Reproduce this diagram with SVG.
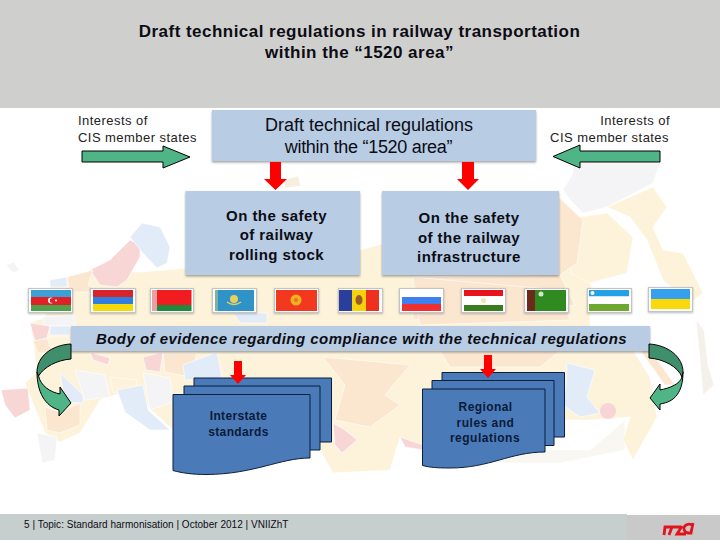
<svg xmlns="http://www.w3.org/2000/svg" width="720" height="540" viewBox="0 0 720 540">
<defs>
<filter id="sh" x="-5%" y="-5%" width="110%" height="115%"><feDropShadow dx="0" dy="1.500" stdDeviation="1" flood-color="#555" flood-opacity=".55"/></filter>
<filter id="fsh" x="-10%" y="-10%" width="120%" height="125%"><feDropShadow dx="0" dy="1" stdDeviation="1" flood-color="#777" flood-opacity=".5"/></filter>
</defs>
<style>
text{font-family:"Liberation Sans",Arial,sans-serif;fill:#0c0c14}
.box{fill:#b8cce4;filter:url(#sh)}
.grn{fill:#4fb486;stroke:#000;stroke-width:1;stroke-linejoin:miter}
.dgr{fill:#3f8f6c;stroke:#000;stroke-width:1}
.red{fill:#f00}
.doc{fill:#4a7ab8;stroke:#0a1f3c;stroke-width:1}
.frame{fill:#fff;stroke:#c4c4c4;stroke-width:1;filter:url(#fsh)}
.m{text-anchor:middle}
.b{font-weight:bold;font-size:15px;letter-spacing:.45px}
.s{font-size:13px;letter-spacing:.45px;fill:#222}
.d{font-size:12px;font-weight:bold;fill:#0b1a3a}
.y{fill:#fdf3da}.o{fill:#fbe6cf}.l{fill:#e2ebf8}.p{fill:#f8d6d6}.w{fill:#f4f4f6}
#map path{stroke:#fff;stroke-width:.6}
</style>
<rect width="720" height="540" fill="#fff"/>
<g id="map">
<path fill="#f8f7f1" d="M423 450H590L625 420V450L560 463 423 463Z"/>
<path class="y" d="M50 285L67 277 93 272 140 272 190 268 360 250 560 197 583 220 577 263 590 283 597 300 590 315 590 330 633 350 650 377 657 417 633 460 623 440 630 417 590 420 547 420 545 450 425 450 400 437 390 470 333 473 320 450 320 400 173 430 130 390 100 400 80 433 60 442 45 433 25 383 37 372 33 340 30 323 45 317Z"/>
<path class="w" d="M563 190L573 173 573 163 660 163 653 183 607 207 583 213 570 200Z"/>
<path class="y" d="M607 207L653 187 667 207 653 227 663 250 683 253 703 293 690 303 663 280 647 240 630 217Z"/>
<path class="y" d="M580 217L607 213 633 237 627 273 590 283 570 273Z"/>
<path class="o" d="M558 197L583 220 577 263 560 275 575 305 413 320 413 277 540 275Z"/>
<path class="o" d="M640 350L650 350 675 385 665 385Z"/>
<path class="p" d="M90 270L110 260 130 240 140 245 140 257 127 280 117 287 100 285Z"/>
<path class="l" d="M130 237L142 223 160 227 170 247 167 263 157 268 143 253Z"/>
<path class="o" d="M67 277L93 270 88 285 100 292 70 292Z"/>
<path class="l" d="M50 280L67 277 67 287 50 287Z"/>
<path class="w" d="M42 317L75 315 75 326 45 326Z"/>
<path class="p" d="M30 323L50 326 47 338 35 341Z"/>
<path class="o" d="M33 341L50 338 52 353 38 353Z"/>
<path class="l" d="M50 326L70 326 70 335 50 335Z"/>
<path class="y" d="M47 337L70 337 70 345 50 347Z"/>
<path class="p" d="M1 390L28 388 30 410 15 418 5 405Z"/>
<path class="o" d="M45 407L60 412 80 403 80 425 60 433 47 430Z"/>
<path class="w" d="M37 433L57 437 55 460 42 463Z"/>
<path class="l" d="M60 373L83 395 83 403 65 402Z"/>
<path class="w" d="M75 370L105 375 110 397 85 400Z"/>
<path class="y" d="M110 377L137 380 135 393 113 392Z"/>
<path class="l" d="M117 390L143 385 148 410 170 430 150 430 125 412Z"/>
<path class="w" d="M143 373L170 378 173 402 150 410Z"/>
<path class="p" d="M143 357L163 352 160 372 146 370Z"/>
<path class="p" d="M90 352L110 358 108 365 93 360Z"/>
<path class="o" d="M163 353L197 353 190 377 165 372Z"/>
<path class="l" d="M183 365L217 352 222 378 185 380Z"/>
<path class="l" d="M233 313L267 313 267 323 240 323Z"/>
<path class="o" d="M323 357L410 365 385 395 400 405 370 427 335 420 345 385Z"/>
<path class="p" d="M333 423L345 430 357 440 342 453 335 445Z"/>
<path class="p" d="M400 437L423 445 423 450 405 447Z"/>
<path class="o" d="M440 351L560 351 540 367 450 367Z"/>
<path class="l" d="M567 363L595 370 587 397 600 413 580 417 563 405 566 385Z"/>
<circle cx="608" cy="411" r="8" fill="#f8d4d6"/>
<path class="o" d="M413 277L560 290 570 320 420 325Z"/>
<path class="w" d="M6 265L14 262 19 270 13 273Z"/>
<path fill="#f6efe0" d="M283 180L298 176 301 186 285 188Z"/>
<path fill="#f3f1ea" d="M696 320L704 330 708 365 714 385 703 395 700 360Z"/>
</g>
<rect id="header" width="720" height="108" fill="#cfcfce"/>
<rect id="footer" y="514" width="627" height="26" fill="#c7cfce"/>
<rect id="footer-right" x="627" y="515" width="93" height="25" fill="#c9c9c9"/>
<text class="m" font-size="17" font-weight="bold" letter-spacing=".47" x="359.500" y="37">Draft technical regulations in railway transportation</text>
<text class="m" font-size="17" font-weight="bold" letter-spacing=".47" x="359.500" y="58">within the “1520 area”</text>
<g id="n1"><rect class="box" x="212" y="110" width="324" height="51"/><text class="m" font-size="18" x="369" y="130.500">Draft technical regulations</text><text class="m" font-size="18" letter-spacing="-.3" x="368.500" y="152.500">within the “1520 area”</text></g>
<g id="n2"><rect class="box" x="185.500" y="191" width="174.500" height="84"/><text class="m b" x="276.500" y="221">On the safety</text><text class="m b" x="276.500" y="240">of railway</text><text class="m b" x="276.500" y="260">rolling stock</text></g>
<g id="n3"><rect class="box" x="382" y="191" width="177" height="84"/><text class="m b" x="469" y="223">On the safety</text><text class="m b" x="469" y="243">of the railway</text><text class="m b" x="469" y="262">infrastructure</text></g>
<g id="label-left"><text class="s" x="78" y="125">Interests of</text><text class="s" x="78" y="142">CIS member states</text></g>
<g id="label-right"><text class="s" text-anchor="end" x="670" y="125">Interests of</text><text class="s" text-anchor="end" x="669" y="142">CIS member states</text></g>
<g id="flags">
<g id="flag-az"><rect class="frame" x="28.500" y="288.500" width="44" height="24"/><rect x="31" y="290" width="40" height="7" fill="#3d9fd8"/><rect x="31" y="297" width="40" height="8" fill="#e01f26"/><rect x="31" y="305" width="40" height="6" fill="#4ea04a"/><circle cx="51" cy="300.500" r="3" fill="#fff"/><circle cx="52.300" cy="300.500" r="2.500" fill="#e01f26"/><circle cx="56" cy="300.500" r="1" fill="#fff"/></g>
<g id="flag-am"><rect class="frame" x="90.500" y="288.500" width="45" height="24"/><rect x="93" y="290" width="40" height="7" fill="#d8232a"/><rect x="93" y="297" width="40" height="7" fill="#2f7fe0"/><rect x="93" y="304" width="40" height="7" fill="#f5d90a"/></g>
<g id="flag-by"><rect class="frame" x="150.500" y="288.500" width="43" height="24"/><rect x="157" y="290" width="34.500" height="15" fill="#f01c20"/><rect x="157" y="305" width="34.500" height="6" fill="#1f8a3c"/><rect x="152" y="290" width="5" height="21" fill="#e8a0a0"/></g>
<g id="flag-kz"><rect class="frame" x="212.500" y="288.500" width="44" height="24"/><rect x="215" y="290" width="39" height="21" fill="#2f93c8"/><rect x="215" y="290" width="3" height="21" fill="#7fb0a0"/><circle cx="234" cy="299" r="4" fill="#e8d060"/><path d="M227 302Q234 307 241 302" fill="none" stroke="#e8d060" stroke-width="1.500"/></g>
<g id="flag-kg"><rect class="frame" x="274.500" y="288.500" width="44" height="24"/><rect x="276" y="290" width="41" height="21" fill="#f2381f"/><circle cx="296" cy="300" r="5.500" fill="#f0b020"/><circle cx="296" cy="300" r="2" fill="#d87a20"/></g>
<g id="flag-md"><rect class="frame" x="338.500" y="288.500" width="44" height="24"/><rect x="339" y="290" width="13" height="21" fill="#2a3f9c"/><rect x="352" y="290" width="14" height="21" fill="#f5d20a"/><rect x="366" y="290" width="13" height="21" fill="#f0301f"/><ellipse cx="359" cy="300" rx="3.500" ry="5" fill="#9a5a2a"/></g>
<g id="flag-ru"><rect class="frame" x="399.500" y="288.500" width="44" height="24"/><rect x="402" y="290" width="39" height="7" fill="#fff"/><rect x="402" y="297" width="39" height="7" fill="#3f80f0"/><rect x="402" y="304" width="39" height="7" fill="#ee3030"/></g>
<g id="flag-tj"><rect class="frame" x="461.500" y="288.500" width="44" height="24"/><rect x="464" y="290" width="39" height="6" fill="#e8141c"/><rect x="464" y="296" width="39" height="9" fill="#fff"/><rect x="464" y="305" width="39" height="6" fill="#3a7d20"/><circle cx="483.500" cy="300.500" r="2.500" fill="#f2e6b0"/></g>
<g id="flag-tm"><rect class="frame" x="524.500" y="288.500" width="44" height="24"/><rect x="527" y="290" width="39" height="21" fill="#2f8a1f"/><rect x="527" y="290" width="8" height="21" fill="#6b2a1a"/><circle cx="541" cy="294" r="2.500" fill="#cfe8cf"/></g>
<g id="flag-uz"><rect class="frame" x="587.500" y="288.500" width="44" height="24"/><rect x="589" y="290" width="40" height="6.500" fill="#23a0e8"/><rect x="589" y="296.500" width="40" height="7.500" fill="#fff"/><rect x="589" y="304" width="40" height="7" fill="#6fa830"/><circle cx="592.500" cy="293" r="2" fill="#fff"/></g>
<g id="flag-ua"><rect class="frame" x="648.500" y="287.500" width="44" height="24"/><rect x="651" y="289" width="39" height="10" fill="#35a0ee"/><rect x="651" y="299" width="39" height="10" fill="#fad80a"/></g>
</g>
<g id="n4"><rect class="box" x="71" y="326" width="579" height="25"/><text class="m" font-size="15" font-weight="bold" font-style="italic" letter-spacing=".47" x="361.500" y="344">Body of evidence regarding compliance with the technical regulations</text></g>
<g id="n5">
<path class="doc" d="M194 378H331.500V442H194Z"/><path class="doc" d="M184 386H320V450H184Z"/>
<path class="doc" d="M173 394.500H310V458C280 458 255 474 207 474.500C192 474.500 182 473 173 470.500Z"/>
<text class="m d" letter-spacing=".35" x="238.500" y="420">Interstate</text><text class="m d" letter-spacing=".35" x="238.500" y="436">standards</text>
</g>
<g id="n6">
<path class="doc" d="M442 372.500H564.500V437H442Z"/><path class="doc" d="M432 380.500H554V445.500H432Z"/>
<path class="doc" d="M422.500 389H545V452C510 452 490 468 450 468C438 468 430 467.500 422.500 465.500Z"/>
<text class="m d" letter-spacing=".4" x="485.500" y="411">Regional</text><text class="m d" letter-spacing=".5" x="485.500" y="427">rules and</text><text class="m d" letter-spacing=".5" x="485" y="442">regulations</text>
</g>
<text font-size="10" x="24" y="528" letter-spacing=".03">5 | Topic: Standard harmonisation | October 2012 | VNIIZhT</text>
<g id="connectors">
<path class="grn" d="M82 151H163V146L190 157 163 168V162H82Z"/>
<path class="grn" d="M660 151H580V145L553 156.500 580 168V162H660Z"/>
<path class="red" d="M270 162H281V179H287L275.500 190 264 179H270Z"/>
<path class="red" d="M462 162H474V179H479L468 190 457 179H462Z"/>
<path class="red" d="M234 361H242V375H246L238 384 230 375H234Z"/>
<path class="red" d="M484 355H492V369H496L488 378 480 369H484Z"/>
<path class="grn" d="M37 372C37 392 45 406 59 410V416L71 403 60 387V394C50 392 41 386 38.500 376Z"/>
<path class="dgr" d="M71 344C51 345 37 357 37 372L38.500 376C44 367 57 360 71 359Z"/>
<path class="grn" d="M683 372C683 392 675 402 660 404V410L650 398 660 384V390C670 388 680 384 682 377Z"/>
<path class="dgr" d="M649 344C668 345 683 357 683 372L682 377C678 367 664 359 649 358Z"/>
</g>
<path id="logo" fill="none" stroke="#e0141c" stroke-width="2.800" d="M664 535L665 527H681M672 527L669 535M682 526L677 534H686M693 526A5 4.500 0 1 0 688 533H691L693 523"/>
</svg>
